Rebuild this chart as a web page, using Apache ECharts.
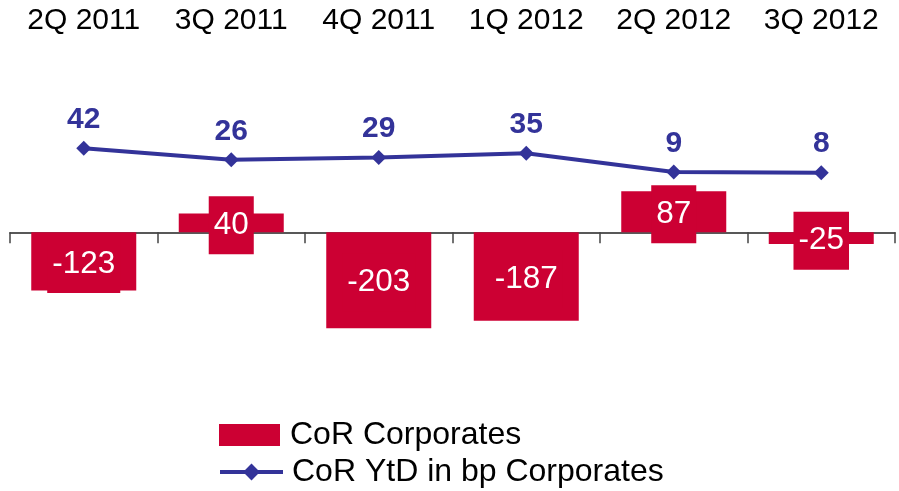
<!DOCTYPE html>
<html>
<head>
<meta charset="utf-8">
<script src="https://cdn.jsdelivr.net/npm/echarts@6/dist/echarts.min.js"></script>
<style>
html,body{margin:0;padding:0;background:#fff;}
#chart{width:899px;height:491px;}
</style>
</head>
<body>
<div id="chart"></div>
<script>
const categories = ['2Q 2011', '3Q 2011', '4Q 2011', '1Q 2012', '2Q 2012', '3Q 2012'];
const corCorporates = [-123, 40, -203, -187, 87, -25];
const corYtdBp = [42, 26, 29, 35, 9, 8];
const seriesNames = ['CoR Corporates', 'CoR YtD in bp Corporates'];

const FONT = '"Liberation Sans", Arial, sans-serif';
const RED = '#CC0033';
const BLUE = '#333399';

const chart = echarts.init(document.getElementById('chart'), null, {renderer: 'canvas'});
chart.setOption({
  animation: false,
  backgroundColor: '#ffffff',
  textStyle: {fontFamily: FONT},
  grid: {left: 10, right: 4, top: 60, bottom: 131, containLabel: false},
  legend: [
    {
      data: [{name: seriesNames[0], icon: 'rect'}],
      orient: 'vertical',
      left: 219, top: 419,
      padding: 0,
      itemWidth: 61, itemHeight: 22,
      textStyle: {fontSize: 32, color: '#000', fontFamily: FONT, padding: [0, 0, 0, 5]}
    },
    {
      data: [seriesNames[1]],
      orient: 'vertical',
      left: 218, top: 456,
      padding: 0,
      itemWidth: 63, itemHeight: 21,
      lineStyle: {width: 4, color: BLUE},
      textStyle: {fontSize: 32, color: '#000', fontFamily: FONT, padding: [0, 0, 0, 4]}
    }
  ],
  xAxis: [
    {
      type: 'category',
      data: categories,
      position: 'top',
      axisLine: {show: false, onZero: false},
      axisTick: {show: false},
      axisLabel: {fontSize: 30, color: '#000', fontFamily: FONT, margin: 24, interval: 0}
    },
    {
      type: 'category',
      data: categories,
      position: 'bottom',
      axisLine: {show: true, onZero: true, onZeroAxisIndex: 0, lineStyle: {color: '#222', width: 1.5}},
      axisTick: {show: true, length: 11, inside: false, lineStyle: {color: '#444', width: 1.5}},
      axisLabel: {show: false}
    }
  ],
  yAxis: [
    {type: 'value', min: -270.0, max: 364.3, show: false, splitLine: {show: false}},
    {type: 'value', min: -252.9, max: 164.9, show: false, splitLine: {show: false}}
  ],
  series: [
    {
      name: seriesNames[0],
      type: 'bar',
      xAxisIndex: 1,
      yAxisIndex: 0,
      data: corCorporates,
      barWidth: 105,
      itemStyle: {color: RED},
      label: {
        show: true,
        position: 'inside',
        offset: [0, 2.5],
        color: '#fff',
        fontSize: 31.5,
        fontFamily: FONT,
        backgroundColor: RED,
        padding: [13, 5]
      }
    },
    {
      name: seriesNames[1],
      type: 'line',
      xAxisIndex: 1,
      yAxisIndex: 1,
      data: corYtdBp,
      symbol: 'diamond',
      symbolSize: 15,
      lineStyle: {color: BLUE, width: 4},
      itemStyle: {color: BLUE},
      z: 5,
      label: {
        show: true,
        position: 'top',
        distance: 6,
        color: BLUE,
        fontWeight: 'bold',
        fontSize: 30,
        fontFamily: FONT
      }
    }
  ]
});
</script>
</body>
</html>
